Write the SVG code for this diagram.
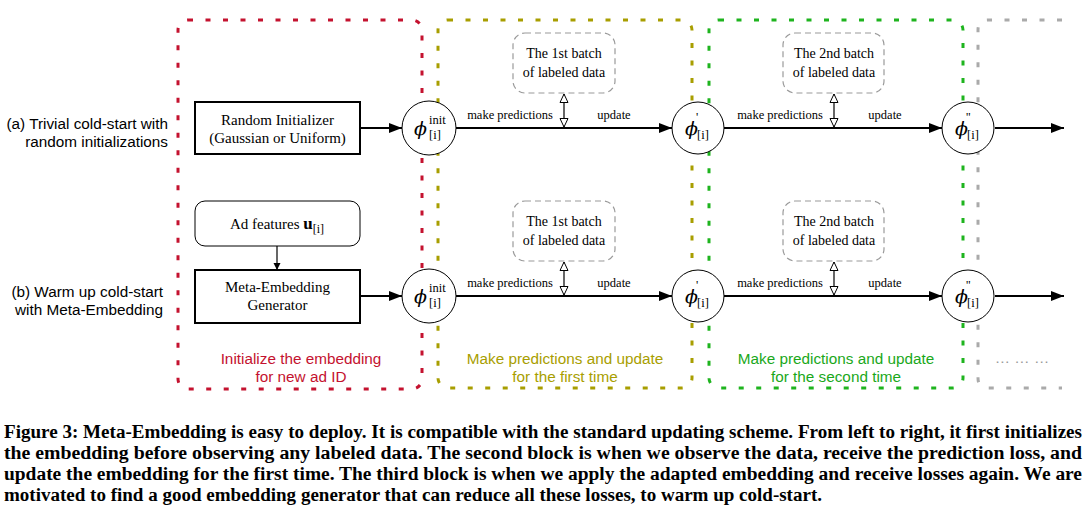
<svg xmlns="http://www.w3.org/2000/svg" width="1087" height="522" viewBox="0 0 1087 522">
<style>
.blk{fill:none;stroke-width:3;stroke-dasharray:5 12.5}
.serif{font-family:"Liberation Serif","DejaVu Serif",serif;fill:#000}
.sans{font-family:"Liberation Sans",Arial,sans-serif}
.phi{font-family:"DejaVu Serif","Liberation Serif",serif;font-size:19px;font-style:italic}
.sm{font-family:"Liberation Serif",serif;font-size:12.5px;font-style:normal}
.lbl{font-family:"Liberation Serif",serif;font-size:12.5px;text-anchor:middle}
.batch{fill:none;stroke:#9a9a9a;stroke-width:1.2;stroke-dasharray:6 4}
.node{fill:#fff;stroke:#000;stroke-width:1}
.box{fill:#fff;stroke:#000;stroke-width:2}
.arr{stroke:#000;stroke-width:2;fill:none}
.dbl{stroke:#000;stroke-width:1.2;fill:none}
.cap{font-family:"Liberation Serif","Times New Roman",serif;font-weight:bold;font-size:18.5px}
</style>
<defs>
<marker id="ah" markerUnits="userSpaceOnUse" markerWidth="14" markerHeight="12" refX="13" refY="6" orient="auto"><path d="M0,1 L13,6 L0,11 Z" fill="#000"/></marker>
<marker id="ahs" markerUnits="userSpaceOnUse" markerWidth="8" markerHeight="8" refX="7" refY="4" orient="auto"><path d="M0,0.5 L7,4 L0,7.5 Z" fill="#000"/></marker>
<marker id="hol" markerUnits="userSpaceOnUse" markerWidth="10" markerHeight="10" refX="9" refY="5" orient="auto-start-reverse"><path d="M0.5,1 L9,5 L0.5,9 Z" fill="#fff" stroke="#000" stroke-width="1"/></marker>
</defs>

<g id="blocks">
<rect class="blk" x="178" y="20" width="244" height="369" rx="10" stroke="#c4122f"/>
<rect class="blk" x="438" y="20" width="254" height="368" rx="10" stroke="#a89e00"/>
<rect class="blk" x="709" y="20" width="254" height="368" rx="10" stroke="#1eb41e"/>
<path class="blk" d="M1062,20 L988,20 Q978,20 978,30 L978,378 Q978,388 988,388 L1062,388" stroke="#aaaaaa"/>
</g>

<g id="block-labels" class="sans" font-size="15.3" text-anchor="middle">
<text x="301" y="364" fill="#c4122f">Initialize the embedding</text>
<text x="301" y="382" fill="#c4122f">for new ad ID</text>
<text x="565" y="364" fill="#a89e00">Make predictions and update</text>
<text x="565" y="382" fill="#a89e00">for the first time</text>
<text x="836" y="364" fill="#1aa81a">Make predictions and update</text>
<text x="836" y="382" fill="#1aa81a">for the second time</text>
<text x="1022" y="363" fill="#999999">… … …</text>
</g>

<g id="row-labels" class="sans" font-size="15.3" text-anchor="end" fill="#000">
<text x="168" y="129">(a) Trivial cold-start with</text>
<text x="168" y="147">random initializations</text>
<text x="163" y="297">(b) Warm up cold-start</text>
<text x="163" y="315">with Meta-Embedding</text>
</g>

<g id="connectors">
<line class="arr" x1="360" y1="128" x2="402" y2="128" marker-end="url(#ah)"/>
<line class="arr" x1="456" y1="128" x2="672" y2="128" marker-end="url(#ah)"/>
<line class="arr" x1="724" y1="128" x2="942" y2="128" marker-end="url(#ah)"/>
<line class="arr" x1="995" y1="128" x2="1064" y2="128" marker-end="url(#ah)"/>
<line class="arr" x1="360" y1="296" x2="402" y2="296" marker-end="url(#ah)"/>
<line class="arr" x1="456" y1="296" x2="672" y2="296" marker-end="url(#ah)"/>
<line class="arr" x1="724" y1="296" x2="942" y2="296" marker-end="url(#ah)"/>
<line class="arr" x1="995" y1="296" x2="1064" y2="296" marker-end="url(#ah)"/>
<line x1="277" y1="246" x2="277" y2="270" stroke="#000" stroke-width="1.2" marker-end="url(#ahs)"/>
<line class="dbl" x1="564" y1="94" x2="564" y2="127" marker-start="url(#hol)" marker-end="url(#hol)"/>
<line class="dbl" x1="834" y1="94" x2="834" y2="127" marker-start="url(#hol)" marker-end="url(#hol)"/>
<line class="dbl" x1="564" y1="262" x2="564" y2="295" marker-start="url(#hol)" marker-end="url(#hol)"/>
<line class="dbl" x1="834" y1="262" x2="834" y2="295" marker-start="url(#hol)" marker-end="url(#hol)"/>
<g class="lbl">
<text x="510" y="119">make predictions</text>
<text x="614" y="119">update</text>
<text x="780" y="119">make predictions</text>
<text x="885" y="119">update</text>
<text x="510" y="287">make predictions</text>
<text x="614" y="287">update</text>
<text x="780" y="287">make predictions</text>
<text x="885" y="287">update</text>
</g>
</g>

<g id="random-initializer">
<rect class="box" x="195" y="102" width="165" height="52"/>
<text class="serif" x="277.5" y="125" font-size="15" text-anchor="middle">Random Initializer</text>
<text class="serif" x="277.5" y="143" font-size="15" text-anchor="middle">(Gaussian or Uniform)</text>
</g>

<g id="ad-features">
<rect x="195" y="201" width="165" height="45" rx="10" fill="#fff" stroke="#000" stroke-width="1"/>
<text class="serif" x="277" y="229" font-size="15" text-anchor="middle">Ad features <tspan font-weight="bold" font-size="17">u</tspan><tspan font-size="12" dy="4">[i]</tspan></text>
</g>

<g id="meta-embedding-generator">
<rect class="box" x="195" y="270" width="165" height="53"/>
<text class="serif" x="277.5" y="292" font-size="15" text-anchor="middle">Meta-Embedding</text>
<text class="serif" x="277.5" y="310" font-size="15" text-anchor="middle">Generator</text>
</g>

<g id="batch-1a">
<rect class="batch" x="513" y="33" width="102" height="60" rx="12"/>
<text class="serif" x="564" y="58" font-size="14" text-anchor="middle">The 1st batch</text>
<text class="serif" x="564" y="77" font-size="14" text-anchor="middle">of labeled data</text>
</g>
<g id="batch-2a">
<rect class="batch" x="783" y="33" width="101" height="60" rx="12"/>
<text class="serif" x="834" y="58" font-size="14" text-anchor="middle">The 2nd batch</text>
<text class="serif" x="834" y="77" font-size="14" text-anchor="middle">of labeled data</text>
</g>
<g id="batch-1b">
<rect class="batch" x="513" y="201" width="102" height="60" rx="12"/>
<text class="serif" x="564" y="226" font-size="14" text-anchor="middle">The 1st batch</text>
<text class="serif" x="564" y="245" font-size="14" text-anchor="middle">of labeled data</text>
</g>
<g id="batch-2b">
<rect class="batch" x="783" y="201" width="101" height="60" rx="12"/>
<text class="serif" x="834" y="226" font-size="14" text-anchor="middle">The 2nd batch</text>
<text class="serif" x="834" y="245" font-size="14" text-anchor="middle">of labeled data</text>
</g>

<g id="phi-init-a">
<circle class="node" cx="429" cy="128" r="27"/>
<text class="phi" x="414" y="135">ϕ<tspan class="sm" x="429" y="124">init</tspan><tspan class="sm" x="429" y="139">[i]</tspan></text>
</g>
<g id="phi-1-a">
<circle class="node" cx="698" cy="128" r="26"/>
<text class="phi" x="685" y="135">ϕ<tspan class="sm" x="696" y="121">'</tspan><tspan class="sm" x="697" y="139">[i]</tspan></text>
</g>
<g id="phi-2-a">
<circle class="node" cx="968" cy="128" r="26"/>
<text class="phi" x="955" y="135">ϕ<tspan class="sm" x="966" y="121">''</tspan><tspan class="sm" x="967" y="139">[i]</tspan></text>
</g>
<g id="phi-init-b">
<circle class="node" cx="429" cy="296" r="27"/>
<text class="phi" x="414" y="303">ϕ<tspan class="sm" x="429" y="292">init</tspan><tspan class="sm" x="429" y="307">[i]</tspan></text>
</g>
<g id="phi-1-b">
<circle class="node" cx="698" cy="296" r="26"/>
<text class="phi" x="685" y="303">ϕ<tspan class="sm" x="696" y="289">'</tspan><tspan class="sm" x="697" y="307">[i]</tspan></text>
</g>
<g id="phi-2-b">
<circle class="node" cx="968" cy="296" r="26"/>
<text class="phi" x="955" y="303">ϕ<tspan class="sm" x="966" y="289">''</tspan><tspan class="sm" x="967" y="307">[i]</tspan></text>
</g>

<g id="caption" class="cap">
<text x="4" y="438" textLength="1078" lengthAdjust="spacingAndGlyphs">Figure 3: Meta-Embedding is easy to deploy. It is compatible with the standard updating scheme. From left to right, it first initializes</text>
<text x="4" y="459" textLength="1078" lengthAdjust="spacingAndGlyphs">the embedding before observing any labeled data. The second block is when we observe the data, receive the prediction loss, and</text>
<text x="4" y="480" textLength="1078" lengthAdjust="spacingAndGlyphs">update the embedding for the first time. The third block is when we apply the adapted embedding and receive losses again. We are</text>
<text x="4" y="501" textLength="818" lengthAdjust="spacingAndGlyphs">motivated to find a good embedding generator that can reduce all these losses, to warm up cold-start.</text>
</g>
</svg>
